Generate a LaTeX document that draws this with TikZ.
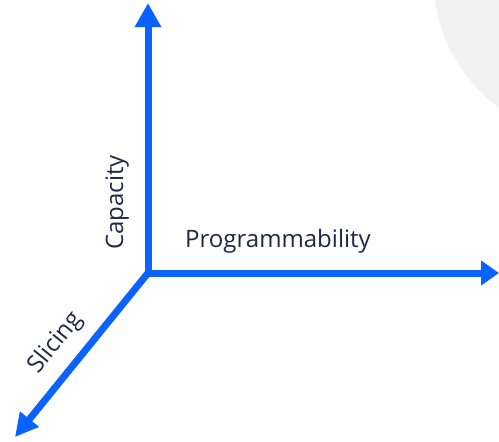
\documentclass[tikz,border=0pt]{standalone}
\usepackage{fontspec}
\setmainfont{Open Sans}
\usetikzlibrary{arrows.meta}
\definecolor{axisblue}{RGB}{10,98,255}
\definecolor{labelnavy}{RGB}{28,40,70}
\definecolor{bggray}{RGB}{242,242,242}
\tikzset{
  axis/.style={draw=axisblue, line width=7pt, line join=miter},
  lbl/.style={text=labelnavy, font=\fontsize{24}{28}\selectfont, inner sep=0pt},
}
\begin{document}
\begin{tikzpicture}[x=1pt,y=-1pt]
\useasboundingbox (0,0) rectangle (499,442);
\begin{scope}
\clip (0,0) rectangle (499,442);
\fill[bggray] (598,-24) circle (165);
\end{scope}
\coordinate (O) at (148,273);
\coordinate (T) at (148,3);
\coordinate (R) at (499,273);
\coordinate (D) at (15,437);
\draw[axis, {Triangle[length=24pt,width=25pt]}-{Triangle[length=18pt,width=24pt]}] (T) -- (O) -- (R);
\draw[axis, -{Triangle[length=23pt,width=23pt]}] (O) -- (D);
\node[lbl, anchor=base west] (prog) at (185,247) {Programmability};
\node[lbl, anchor=base west, rotate=90] (cap) at (123,250) {Capacity};
\node[lbl, anchor=center, rotate=51] (slc) at (56,343) {Slicing};
\end{tikzpicture}
\end{document}
